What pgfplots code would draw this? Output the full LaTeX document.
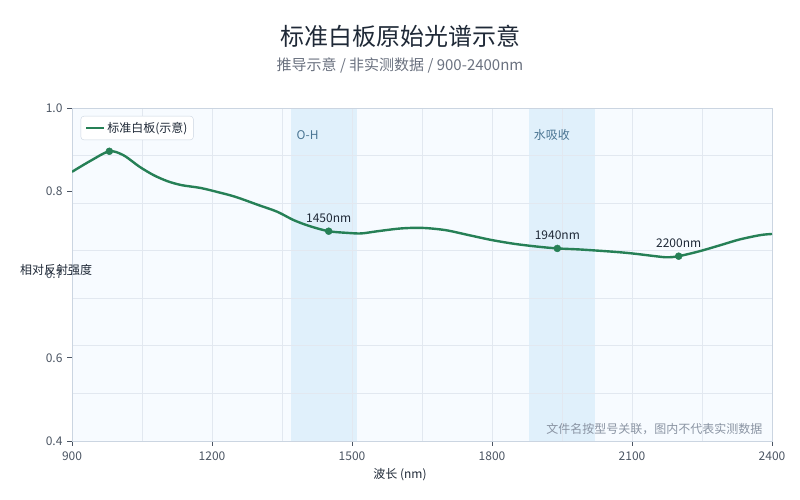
\documentclass[border=0pt]{standalone}
\usepackage{fontspec}
\setmainfont{Noto Sans CJK SC}
\usepackage{pgfplots}
\pgfplotsset{compat=1.18}

\definecolor{lineg}{HTML}{268056}
\definecolor{titlec}{HTML}{1F2937}
\definecolor{subc}{HTML}{6B7280}
\definecolor{tickc}{HTML}{4B5563}
\definecolor{gridc}{HTML}{E2E8F0}
\definecolor{axisc}{HTML}{CBD5E1}
\definecolor{plotbg}{HTML}{F7FBFF}
\definecolor{bandc}{HTML}{E0F0FB}
\definecolor{bandtxt}{HTML}{4A7593}
\definecolor{notec}{HTML}{8A94A3}

\newcommand{\fs}[1]{\fontsize{#1bp}{#1bp}\selectfont}

\begin{document}
\begin{tikzpicture}
% page frame, 800 x 500
\path (0,0) rectangle (800bp,500bp);

% titles and outer labels
\node[font=\fs{24}, text=titlec] at (400bp,464bp) {标准白板原始光谱示意};
\node[font=\fs{15}, text=subc] at (400bp,435bp) {推导示意 / 非实测数据 / 900-2400nm};
\node[font=\fs{12}, text=titlec] at (400bp,25bp) {波长 (nm)};
\node[font=\fs{12}, text=titlec] at (56bp,230bp) {相对反射强度};

\begin{axis}[
  set layers,
  at={(72bp,59bp)}, anchor=south west,
  width=700bp, height=333bp, scale only axis,
  xmin=900, xmax=2400, ymin=0.4, ymax=1.0,
  xtick={900,1200,1500,1800,2100,2400},
  minor xtick={1050,1350,1650,1950,2250},
  ytick={0.4,0.55,0.7,0.85,1.0},
  yticklabels={0.4,0.6,0.7,0.8,1.0},
  minor ytick={0.4857,0.5714,0.6571,0.7429,0.8286,0.9143},
  xmajorgrids, xminorgrids, yminorgrids,
  grid style={gridc, line width=0.8bp},
  minor grid style={gridc, line width=0.8bp},
  axis line style={axisc, line width=0.8bp},
  xtick pos=bottom, ytick pos=left,
  tick align=outside,
  major tick length=5bp, minor tick length=0bp,
  tick style={tickc, line width=0.8bp},
  tick label style={font=\fs{12}, text=tickc},
  xticklabel style={yshift=-2bp},
  yticklabel style={xshift=-1bp},
  /pgf/number format/assume math mode=true,
  /pgf/number format/1000 sep={},
  legend style={at={(0.0124,0.976)}, anchor=north west,
    draw=axisc, fill=white, rounded corners=3bp,
    font=\fs{12}, text=titlec, inner xsep=4bp, inner ysep=4bp},
  legend cell align=left,
  legend image code/.code={\draw[lineg, line width=2.4bp] (0bp,0bp) -- (18bp,0bp);},
]

\pgfplotsextra{
\begin{pgfonlayer}{axis background}
  \fill[plotbg] (axis cs:900,0.4) rectangle (axis cs:2400,1.0);
  \fill[bandc] (axis cs:1370,0.4) rectangle (axis cs:1510,1.0);
  \fill[bandc] (axis cs:1880,0.4) rectangle (axis cs:2020,1.0);
\end{pgfonlayer}
}

\addplot[lineg, line width=2.4bp, smooth, tension=0.5] coordinates {
  (900,0.885) (940,0.905) (980,0.922) (1010,0.915) (1045,0.894)
  (1075,0.879) (1105,0.868) (1135,0.861) (1175,0.856) (1210,0.849)
  (1250,0.840) (1300,0.825) (1340,0.813) (1375,0.798) (1410,0.787)
  (1450,0.778) (1490,0.775) (1520,0.774) (1555,0.778) (1605,0.783)
  (1650,0.784) (1700,0.780) (1750,0.771) (1800,0.762) (1850,0.755)
  (1900,0.750) (1940,0.747) (1990,0.745) (2060,0.741) (2100,0.738)
  (2150,0.733) (2175,0.731) (2200,0.733) (2245,0.742) (2290,0.753)
  (2330,0.763) (2375,0.771) (2400,0.773)
};
\addlegendentry{标准白板(示意)}

\addplot[only marks, mark=*, mark size=3.5bp, lineg, forget plot] coordinates {
  (980,0.922) (1450,0.778) (1940,0.747) (2200,0.733)
};

\node[font=\fs{12}, text=titlec, above=5bp] at (axis cs:1450,0.778) {1450nm};
\node[font=\fs{12}, text=titlec, above=5bp] at (axis cs:1940,0.747) {1940nm};
\node[font=\fs{12}, text=titlec, above=5bp] at (axis cs:2200,0.733) {2200nm};

\node[font=\fs{12}, text=bandtxt, anchor=west] at (axis cs:1374,0.951) {O-H};
\node[font=\fs{12}, text=bandtxt, anchor=west] at (axis cs:1882,0.951) {水吸收};

\node[font=\fs{12}, text=notec, anchor=east] at (axis cs:2387,0.4216) {文件名按型号关联，图内不代表实测数据};
\end{axis}
\end{tikzpicture}
\end{document}
